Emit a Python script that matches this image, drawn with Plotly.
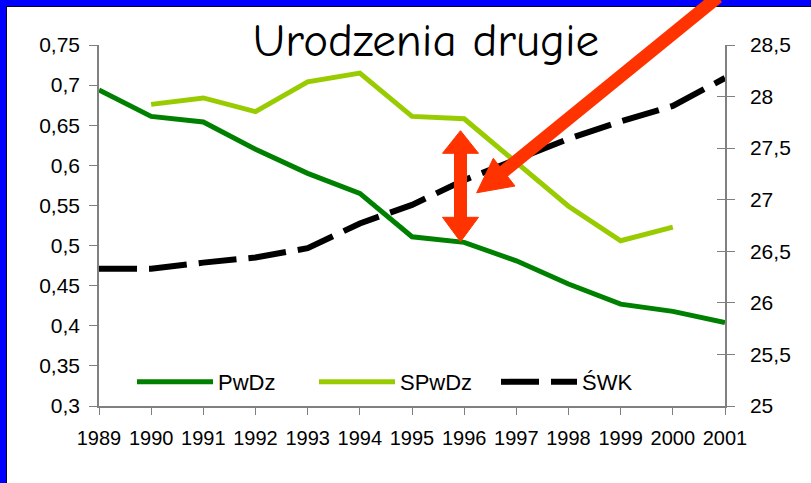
import plotly.graph_objects as go

years = [1989, 1990, 1991, 1992, 1993, 1994, 1995, 1996, 1997, 1998, 1999, 2000, 2001]
pwdz = [0.694, 0.661, 0.654, 0.620, 0.590, 0.565, 0.511, 0.504, 0.481, 0.452, 0.427, 0.418, 0.404]
spwdz = [None, 0.676, 0.684, 0.667, 0.704, 0.715, 0.661, 0.658, 0.604, 0.549, 0.506, 0.523, None]
swk = [26.33, 26.33, 26.39, 26.44, 26.53, 26.77, 26.95, 27.19, 27.39, 27.59, 27.76, 27.91, 28.18]

W, H = 811, 483
L, R, T, B = 99, 725, 45, 406
PW, PH = R - L, B - T


def px(x):
    return (x - L) / PW


def py(y):
    return (B - y) / PH


FONT = "Liberation Sans, Arial, sans-serif"
GRAY = "#808080"
RED = "#FF3300"

fig = go.Figure()
fig.add_trace(go.Scatter(x=years, y=pwdz, name="PwDz", mode="lines",
                         line=dict(color="#008000", width=5), hoverinfo="skip"))
fig.add_trace(go.Scatter(x=years, y=spwdz, name="SPwDz", mode="lines",
                         line=dict(color="#99CC00", width=5), hoverinfo="skip"))
fig.add_trace(go.Scatter(x=years, y=swk, name="ŚWK", mode="lines", yaxis="y2",
                         line=dict(color="#000000", width=6, dash="38px,12px"), hoverinfo="skip"))
fig.add_trace(go.Scatter(x=[], y=[], yaxis="y3", showlegend=False, hoverinfo="skip"))

shapes = []
# blue frame (top and left)
shapes.append(dict(type="rect", xref="paper", yref="paper", x0=px(-5), x1=px(W + 5), y0=py(6), y1=py(-5),
                   fillcolor="#0000FF", line=dict(width=0), layer="above"))
shapes.append(dict(type="rect", xref="paper", yref="paper", x0=px(-5), x1=px(6), y0=py(H + 5), y1=py(-5),
                   fillcolor="#0000FF", line=dict(width=0), layer="above"))
shapes.append(dict(type="line", xref="paper", yref="paper", x0=px(6), x1=px(W + 5), y0=py(6.5), y1=py(6.5),
                   line=dict(color="#000033", width=1), layer="above"))
shapes.append(dict(type="line", xref="paper", yref="paper", x0=px(6.5), x1=px(6.5), y0=py(H + 5), y1=py(6),
                   line=dict(color="#000033", width=1), layer="above"))

# diagonal red arrow
shapes.append(dict(type="line", xref="paper", yref="paper", x0=px(718), y0=py(-3), x1=px(503), y1=py(172),
                   line=dict(color=RED, width=13), layer="above"))
tri = [(476.7, 192.8), (493.3, 158.3), (515, 186)]
path = "M " + " L ".join(f"{px(a)},{py(b)}" for a, b in tri) + " Z"
shapes.append(dict(type="path", xref="paper", yref="paper", path=path,
                   fillcolor=RED, line=dict(color=RED, width=1), layer="above"))

# vertical double arrow
cx = 460.5
shapes.append(dict(type="rect", xref="paper", yref="paper", x0=px(cx - 6.5), x1=px(cx + 6.5),
                   y0=py(218), y1=py(152), fillcolor=RED, line=dict(width=0), layer="above"))
for tip, base in [(130.7, 153.3), (241.7, 217.3)]:
    pts = [(cx, tip), (cx - 18, base), (cx + 18, base)]
    path = "M " + " L ".join(f"{px(a)},{py(b)}" for a, b in pts) + " Z"
    shapes.append(dict(type="path", xref="paper", yref="paper", path=path,
                       fillcolor=RED, line=dict(color=RED, width=1), layer="above"))

fig.update_layout(
    width=W, height=H,
    margin=dict(l=L, r=W - R, t=T, b=H - B, pad=0),
    paper_bgcolor="white", plot_bgcolor="white",
    separators=", ",
    font=dict(family=FONT, size=20, color="black"),
    title=dict(text="Urodzenia drugie", x=426 / W, xanchor="center", xref="container",
               y=1 - 40 / H, yanchor="middle", yref="container",
               font=dict(family="Comic Sans MS, Comic Neue, Lato, sans-serif", size=47, color="black")),
    xaxis=dict(range=[1989, 2001], tickvals=years, ticks="outside", ticklen=7, tickcolor=GRAY,
               showline=True, linecolor=GRAY, linewidth=1.5, showgrid=False, zeroline=False,
               tickfont=dict(size=20), ticklabelstandoff=6),
    yaxis=dict(range=[0.3, 0.75], dtick=0.05, tick0=0.3, ticks="outside", ticklen=8, tickcolor=GRAY,
               showline=True, linecolor=GRAY, linewidth=1.5, showgrid=False, zeroline=False,
               tickfont=dict(size=21), ticklabelstandoff=5),
    yaxis2=dict(range=[25, 28.5], dtick=0.5, tick0=25, overlaying="y", side="right", anchor="x",
                ticks="outside", ticklen=8, tickcolor=GRAY, showline=True, linecolor=GRAY, linewidth=1.5,
                showgrid=False, zeroline=False, tickfont=dict(size=21), ticklabelstandoff=11),
    yaxis3=dict(range=[25, 28.5], dtick=0.5, tick0=25, overlaying="y", side="right", anchor="x",
                ticks="inside", ticklen=8, tickcolor=GRAY, showline=False, showticklabels=False,
                showgrid=False, zeroline=False),
    legend=dict(orientation="h", x=px(132), xanchor="left", y=py(382), yanchor="middle",
                bgcolor="rgba(0,0,0,0)", itemwidth=76, entrywidth=91, entrywidthmode="pixels",
                font=dict(size=22), tracegroupgap=0),
    shapes=shapes,
    showlegend=True,
)

fig.write_html("out.html", config={"displayModeBar": False},
               post_script="document.body.style.margin='0';document.body.style.padding='0';")
